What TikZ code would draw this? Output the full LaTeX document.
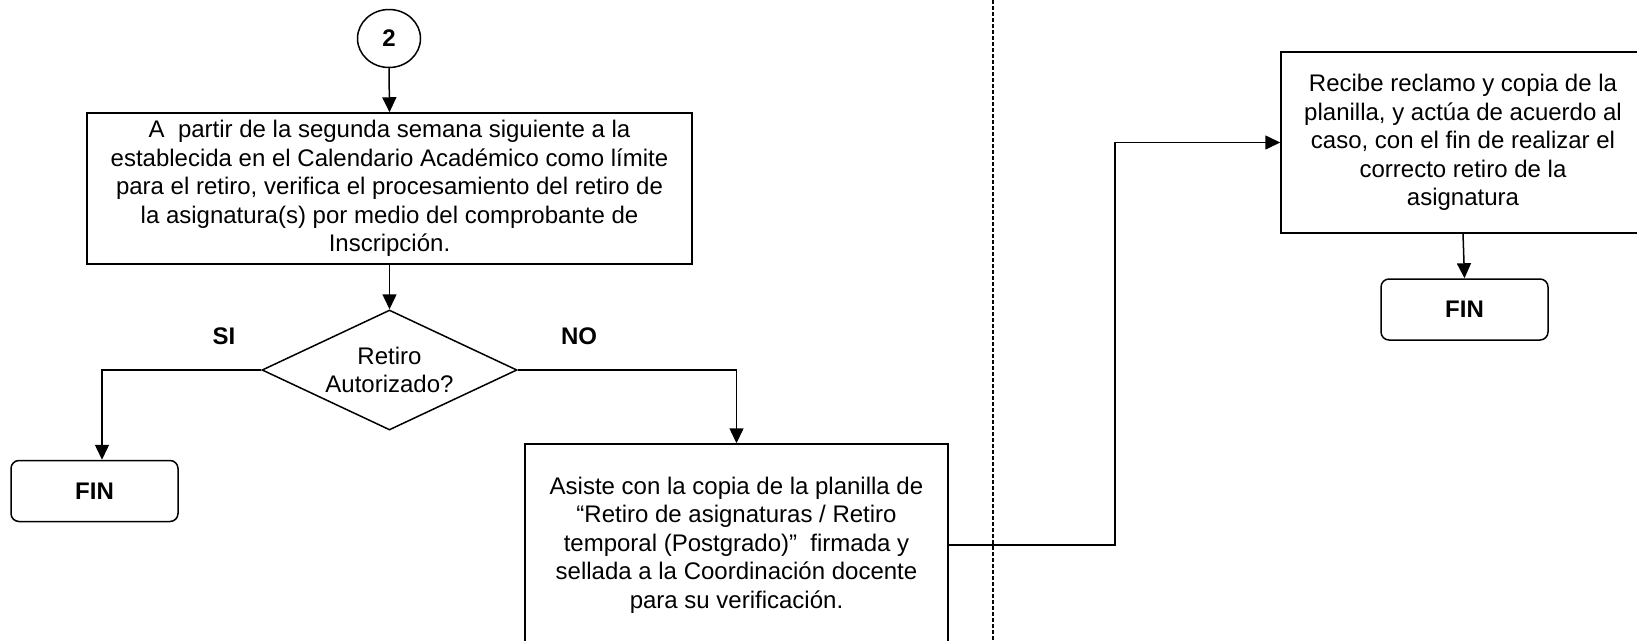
\documentclass[tikz,border=0pt]{standalone}
\usepackage{fontspec}
\setmainfont{Liberation Sans}
\usetikzlibrary{arrows.meta,shapes.geometric}
\begin{document}
\begin{tikzpicture}[x=1pt,y=-1pt,
  every node/.style={font={\fontsize{24}{28.5}\selectfont}},
  proc/.style={draw,rectangle,line width=1.5pt,align=center,inner sep=0pt},
  term/.style={draw,rectangle,rounded corners=8pt,line width=1.5pt,inner sep=0pt,
     minimum width=167pt,minimum height=61pt,font={\fontsize{24}{28.5}\selectfont\bfseries}},
  dec/.style={draw,diamond,line width=1.5pt,align=center,inner sep=0pt,
     minimum width=255pt,minimum height=120pt,aspect=2.125},
  conn/.style={line width=1.5pt,-{Triangle[length=15pt,width=14pt]}},
  lbl/.style={font={\fontsize{24}{28.5}\selectfont\bfseries}},
  lane/.style={line width=1.3pt,dash pattern=on 4pt off 2pt}]
\useasboundingbox (0,0) rectangle (1637,640);
% lane divider
\coordinate (laneTop) at (993,0);
\coordinate (laneBot) at (993,640);
\draw[lane] (laneTop) -- (laneBot);
% nodes
\node[draw,ellipse,line width=1.5pt,minimum width=63pt,minimum height=58pt,inner sep=0pt,
      font={\fontsize{24}{28.5}\selectfont\bfseries}] (c2) at (389,38.5) {2};
\node[proc,minimum width=605pt,minimum height=151pt] (box1) at (389.5,188.5)
  {A\ \ partir de la segunda semana siguiente a la\\
   establecida en el Calendario Académico como límite\\
   para el retiro, verifica el procesamiento del retiro de\\
   la asignatura(s) por medio del comprobante de\\
   Inscripción.};
\node[dec] (dia) at (389.5,370) {Retiro\\Autorizado?};
\node[lbl] (si) at (224,336) {SI};
\node[lbl] (no) at (579,336) {NO};
\node[term] (fin1) at (94.5,491) {FIN};
\node[proc,minimum width=423pt,minimum height=202pt] (box2) at (736.5,545)
  {Asiste con la copia de la planilla de\\
   “Retiro de asignaturas / Retiro\\
   temporal (Postgrado)”\ \ firmada y\\
   sellada a la Coordinación docente\\
   para su verificación.};
\node[proc,minimum width=364pt,minimum height=181pt] (box3) at (1463,142.5)
  {Recibe reclamo y copia de la\\
   planilla, y actúa de acuerdo al\\
   caso, con el fin de realizar el\\
   correcto retiro de la\\
   asignatura};
\node[term] (fin2) at (1464.5,309.5) {FIN};
% helper coordinates
\coordinate (kSI) at (102,370);
\coordinate (kUp) at (1115,545);
% connectors
\draw[conn] (c2.south) -- (box1.north);
\draw[conn] (box1.south) -- (dia.north);
\draw[conn] (dia.west) -- (kSI) -- (kSI |- fin1.north);
\draw[conn] (dia.east) -| (box2.north);
\draw[conn] (box2.east) -- (kUp) |- (box3.west);
\draw[conn] (box3.south) -- (fin2.north);
\end{tikzpicture}
\end{document}
